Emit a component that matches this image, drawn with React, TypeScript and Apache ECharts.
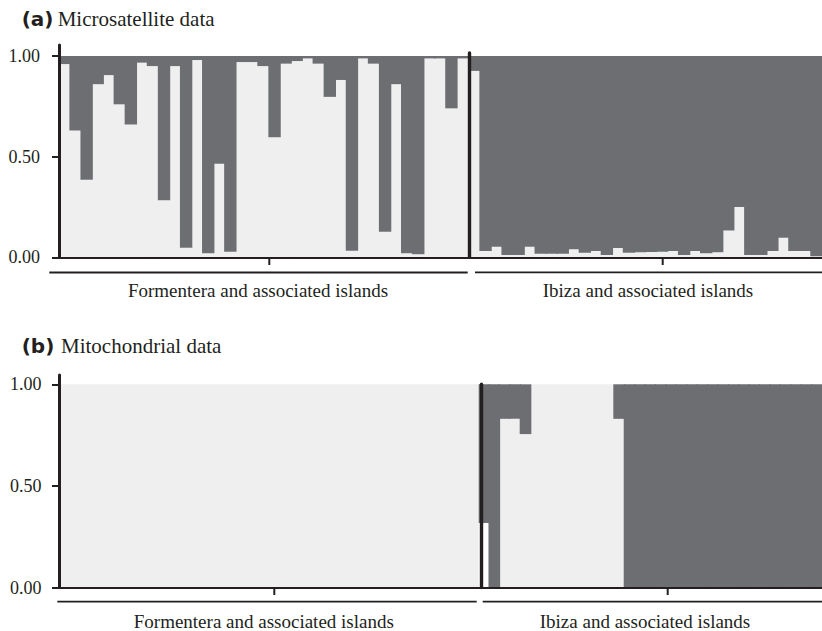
import React, { useEffect, useRef } from "react";
import * as echarts from "echarts";

// ---- data (ancestry proportion of the light cluster per individual) ----
const formenteraMicro = [
  0.96, 0.63, 0.385, 0.86, 0.905, 0.76, 0.66, 0.967, 0.95, 0.283, 0.95, 0.048, 0.98,
  0.02, 0.465, 0.028, 0.97, 0.97, 0.95, 0.596, 0.962, 0.975, 0.988, 0.962, 0.797,
  0.881, 0.033, 0.988, 0.962, 0.127, 0.86, 0.02, 0.015, 0.988, 0.988, 0.74, 0.988,
];
const ibizaMicro = [
  0.926, 0.031, 0.053, 0.012, 0.012, 0.053, 0.018, 0.018, 0.018, 0.04, 0.023, 0.031,
  0.012, 0.046, 0.023, 0.025, 0.026, 0.028, 0.031, 0.012, 0.031, 0.02, 0.025, 0.133,
  0.25, 0.012, 0.012, 0.031, 0.097, 0.031, 0.031, 0.005,
];
const formenteraMito = [
  1, 1, 1, 1, 1, 1, 1, 1, 1, 1, 1, 1, 1, 1, 1, 1, 1, 1, 1, 1,
  1, 1, 1, 1, 1, 1, 1, 1, 1, 1, 1, 1, 1, 1, 1, 1, 1, 1, 1, 1,
];
const ibizaMitoLight = [
  0, 0, 0.83, 0.83, 0.755, 1, 1, 1, 1, 1, 1, 1, 1, 0.83,
  0, 0, 0, 0, 0, 0, 0, 0, 0, 0, 0, 0, 0, 0, 0, 0, 0, 0, 0,
];
const ibizaMitoWhite = [
  0.317, 0, 0, 0, 0, 0, 0, 0, 0, 0, 0, 0, 0, 0,
  0, 0, 0, 0, 0, 0, 0, 0, 0, 0, 0, 0, 0, 0, 0, 0, 0, 0, 0,
];

const yTicks = [0, 0.5, 1];
const groupLabels = ["Formentera and associated islands", "Ibiza and associated islands"];
const panelLetters = ["(a)", "(b)"];
const panelTitles = ["Microsatellite data", "Mitochondrial data"];

const DARK = "#6d6e72";
const LIGHT = "#efefef";
const WHITE = "#ffffff";
const INK = "#231f20";
const SERIF = "Liberation Serif";

function darkOf(light: number[], white?: number[]) {
  return light.map((v, i) => +(1 - v - (white ? white[i] : 0)).toFixed(4));
}
// zero-height pieces are not drawn
function nz(arr: number[]) {
  return arr.map((v) => (v === 0 ? "-" : v));
}

function bar(idx: number, data: number[], color: string) {
  return {
    type: "bar",
    xAxisIndex: idx,
    yAxisIndex: idx,
    stack: "s" + idx,
    data: nz(data),
    barWidth: "112%",
    barGap: "-100%",
    silent: true,
    itemStyle: { color, borderWidth: 0 },
  };
}

function xAx(idx: number, n: number) {
  return {
    type: "category",
    gridIndex: idx,
    data: Array.from({ length: n }, (_, i) => String(i + 1)),
    axisLine: { show: true, lineStyle: { color: INK, width: 2 } },
    axisTick: { show: false },
    axisLabel: { show: false },
    splitLine: { show: false },
    z: 10,
  };
}

function yMain(idx: number, max: number, margin: number) {
  return {
    type: "value",
    gridIndex: idx,
    min: 0,
    max,
    interval: 0.5,
    axisLine: { show: true, lineStyle: { color: INK, width: 3 } },
    axisTick: { show: true, length: 7, lineStyle: { color: INK, width: 2 }, customValues: yTicks },
    axisLabel: {
      customValues: yTicks,
      margin,
      fontFamily: SERIF,
      fontSize: 18,
      color: INK,
      formatter: (v: number) => (Math.abs(v - Math.round(v * 2) / 2) < 1e-6 ? Number(v).toFixed(2) : ""),
    },
    splitLine: { show: false },
    z: 10,
  };
}

function yDivider(idx: number, max: number, offset: number) {
  return {
    type: "value",
    gridIndex: idx,
    min: 0,
    max,
    offset,
    axisLine: { show: true, lineStyle: { color: INK, width: 3.4 } },
    axisTick: { show: false },
    axisLabel: { show: false },
    splitLine: { show: false },
    z: 10,
  };
}

// group-label axes (one category each), placed in their own grids
function groupX(idx: number, name: string, margin: number) {
  return {
    type: "category",
    gridIndex: idx,
    data: [name],
    axisLine: { show: false },
    axisTick: { show: false },
    axisLabel: { show: true, interval: 0, margin, fontFamily: SERIF, fontSize: 19, color: INK },
    splitLine: { show: false },
  };
}
function hiddenY(idx: number) {
  return { type: "value", gridIndex: idx, min: 0, max: 1, show: false };
}

function hline(x1: number, x2: number, y: number, w = 1.8) {
  return { type: "line", shape: { x1, y1: y, x2, y2: y }, style: { stroke: INK, lineWidth: w }, z: 20 };
}
function vtick(x: number, y1: number, y2: number) {
  return { type: "line", shape: { x1: x, y1, x2: x, y2 }, style: { stroke: INK, lineWidth: 2 }, z: 20 };
}

function titleItem(text: string, left: number, top: number, size: number, family: string, weight = "normal") {
  return {
    text,
    left,
    top,
    padding: 0,
    textStyle: { fontFamily: family, fontSize: size, fontWeight: weight, color: INK },
  };
}

export default function App() {
  const ref = useRef<HTMLDivElement>(null);
  useEffect(() => {
    document.body.style.margin = "0";
    const chart = echarts.init(ref.current!, undefined, { renderer: "svg" });
    const option: any = {
      animation: false,
      backgroundColor: "#ffffff",
      title: [
        titleItem(panelLetters[0], 21.7, 9.1, 20, "DejaVu Sans", "bold"),
        titleItem(panelTitles[0], 57.7, 8.4, 21, SERIF),
        titleItem(panelLetters[1], 21.7, 336.4, 20, "DejaVu Sans", "bold"),
        titleItem(panelTitles[1], 61, 335.7, 21, SERIF),
      ],
      grid: [
        { left: 59, top: 45, width: 409, height: 212.3 },
        { left: 469, top: 53, width: 355, height: 204.3 },
        { left: 59, top: 375, width: 422, height: 212.5 },
        { left: 478.7, top: 384.3, width: 349, height: 203.2 },
        // label grids, centred on each group label
        { left: 258 - 150, top: 200, width: 300, height: 57.3 },
        { left: 648 - 150, top: 200, width: 300, height: 57.3 },
        { left: 263.8 - 150, top: 530, width: 300, height: 57.5 },
        { left: 645 - 150, top: 530, width: 300, height: 57.5 },
      ],
      xAxis: [
        xAx(0, formenteraMicro.length),
        xAx(1, ibizaMicro.length),
        xAx(2, formenteraMito.length),
        xAx(3, ibizaMitoLight.length),
        groupX(4, groupLabels[0], 23.5),
        groupX(5, groupLabels[1], 23.5),
        groupX(6, groupLabels[0], 24),
        groupX(7, groupLabels[1], 24),
      ],
      yAxis: [
        yMain(0, 1.0547, 19),
        yDivider(1, 1.015, 0),
        yMain(2, 1.0458, 17.5),
        yDivider(3, 1, -2.3),
        hiddenY(4),
        hiddenY(5),
        hiddenY(6),
        hiddenY(7),
      ],
      series: [
        bar(0, formenteraMicro, LIGHT),
        bar(0, darkOf(formenteraMicro), DARK),
        bar(1, ibizaMicro, LIGHT),
        bar(1, darkOf(ibizaMicro), DARK),
        bar(2, formenteraMito, LIGHT),
        bar(2, darkOf(formenteraMito), DARK),
        bar(3, ibizaMitoWhite, WHITE),
        bar(3, ibizaMitoLight, LIGHT),
        bar(3, darkOf(ibizaMitoLight, ibizaMitoWhite), DARK),
      ],
      graphic: [
        // panel (a) group decorations
        vtick(269.3, 258, 265),
        vtick(662.7, 258, 265),
        hline(49.3, 467.7, 272.5),
        hline(475, 822, 272.3),
        // panel (b) group decorations
        vtick(274.3, 588, 595),
        vtick(667.7, 588, 595),
        hline(57.3, 476.7, 601.7),
        hline(482.7, 822, 601.7),
      ],
    };
    chart.setOption(option);
    return () => chart.dispose();
  }, []);
  return <div ref={ref} style={{ width: 822, height: 631 }} />;
}
